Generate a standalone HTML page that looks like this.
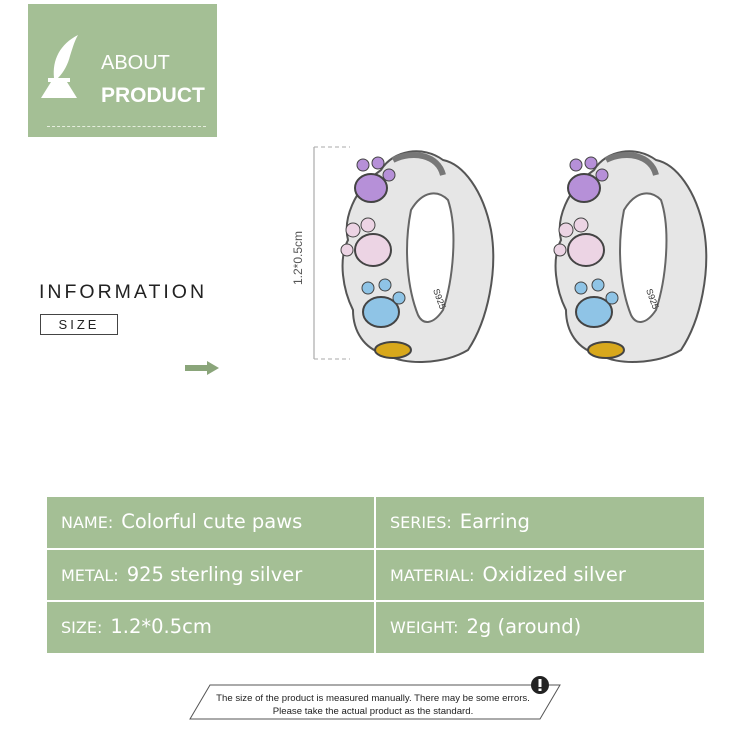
<!DOCTYPE html>
<html><head><meta charset="utf-8"><style>
body{margin:0;width:750px;height:752px;background:#fff;position:relative;overflow:hidden;font-family:"Liberation Sans",sans-serif}
.a{position:absolute}
.cell{position:absolute;background:#a4bf95;color:#fff;font-family:"DejaVu Sans","Liberation Sans",sans-serif;font-size:19.5px;line-height:50px;white-space:nowrap}
.cell span{font-size:16px;margin-right:8px}
</style></head><body>
<div class="a" style="left:28px;top:4px;width:189px;height:133px;background:#a4bf95"></div>
<div class="a" style="left:47px;top:126px;width:159px;border-top:1px dashed #e6eede"></div>
<svg class="a" style="left:40px;top:30px" width="60" height="75" viewBox="0 0 60 75">
<path d="M14 48 C12 30 20 14 38 5 C34 12 32 20 30 26 C28 34 24 42 18 48 Z" fill="#fff"/>
<path d="M8 48 L30 48 L30 52 L27 52 L37 68 L1 68 L11 52 L8 52 Z" fill="#fff"/>
</svg>
<div class="a" style="left:101px;top:52px;color:#fff;font-size:20px">ABOUT</div>
<div class="a" style="left:101px;top:84px;color:#fff;font-size:21px;font-weight:bold">PRODUCT</div>
<div class="a" style="left:39px;top:281px;font-size:19.5px;letter-spacing:3px;color:#222">INFORMATION</div>
<div class="a" style="left:40px;top:314px;width:76px;height:19px;border:1px solid #444;text-align:center;font-size:13px;letter-spacing:3px;line-height:19px;color:#222">SIZE</div>
<svg class="a" style="left:185px;top:361px" width="36" height="14"><rect x="0" y="4" width="24" height="6" fill="#8aa57a"/><polygon points="22,0 34,7 22,14" fill="#8aa57a"/></svg>
<svg class="a" style="left:285px;top:140px" width="460" height="280">
<line x1="29" y1="7" x2="29" y2="219" stroke="#999" stroke-width="1"/>
<line x1="29" y1="7" x2="65" y2="7" stroke="#aaa" stroke-dasharray="4,3"/>
<line x1="29" y1="219" x2="65" y2="219" stroke="#aaa" stroke-dasharray="4,3"/>
<text x="0" y="0" transform="translate(17,145) rotate(-90)" font-family="Liberation Sans" font-size="12" fill="#555">1.2*0.5cm</text>
<defs><g id="er">
<path d="M48 20 C60 0 90 -5 110 10 C130 14 150 40 158 80 C165 120 155 170 135 200 C110 215 70 215 55 205 C30 200 20 180 20 160 C10 140 5 110 15 90 C10 70 20 40 48 20 Z" fill="#e6e6e6" stroke="#555" stroke-width="2"/>
<path d="M78 60 C90 40 105 40 115 50 C125 80 120 130 110 160 C100 175 90 175 85 165 C75 140 70 100 78 60 Z" fill="#fff" stroke="#666" stroke-width="2"/>
<path d="M60 10 C80 0 105 5 110 25" fill="none" stroke="#777" stroke-width="6"/>
<ellipse cx="38" cy="38" rx="16" ry="14" fill="#b690d8" stroke="#444" stroke-width="2"/>
<circle cx="30" cy="15" r="6" fill="#b690d8" stroke="#444"/><circle cx="45" cy="13" r="6" fill="#b690d8" stroke="#444"/><circle cx="56" cy="25" r="6" fill="#b690d8" stroke="#444"/>
<ellipse cx="40" cy="100" rx="18" ry="16" fill="#ecd4e4" stroke="#444" stroke-width="2"/>
<circle cx="20" cy="80" r="7" fill="#ecd4e4" stroke="#444"/><circle cx="35" cy="75" r="7" fill="#ecd4e4" stroke="#444"/><circle cx="14" cy="100" r="6" fill="#ecd4e4" stroke="#444"/>
<ellipse cx="48" cy="162" rx="18" ry="15" fill="#8fc4e6" stroke="#444" stroke-width="2"/>
<circle cx="35" cy="138" r="6" fill="#8fc4e6" stroke="#444"/><circle cx="52" cy="135" r="6" fill="#8fc4e6" stroke="#444"/><circle cx="66" cy="148" r="6" fill="#8fc4e6" stroke="#444"/>
<ellipse cx="60" cy="200" rx="18" ry="8" fill="#d8a81c" stroke="#444" stroke-width="2"/>
<text x="100" y="140" transform="rotate(70 100 140)" font-size="9" fill="#333">S925</text>
</g></defs>
<use href="#er" x="48" y="10"/>
<use href="#er" x="261" y="10"/>
</svg>
<div class="cell" style="left:47px;top:497px;width:327px;height:51px;padding-left:14px;box-sizing:border-box"><span>NAME:</span>Colorful cute paws</div>
<div class="cell" style="left:376px;top:497px;width:328px;height:51px;padding-left:14px;box-sizing:border-box"><span>SERIES:</span>Earring</div>
<div class="cell" style="left:47px;top:550px;width:327px;height:50px;padding-left:14px;box-sizing:border-box"><span>METAL:</span>925 sterling silver</div>
<div class="cell" style="left:376px;top:550px;width:328px;height:50px;padding-left:14px;box-sizing:border-box"><span>MATERIAL:</span>Oxidized silver</div>
<div class="cell" style="left:47px;top:602px;width:327px;height:51px;padding-left:14px;box-sizing:border-box"><span>SIZE:</span>1.2*0.5cm</div>
<div class="cell" style="left:376px;top:602px;width:328px;height:51px;padding-left:14px;box-sizing:border-box"><span>WEIGHT:</span>2g (around)</div>
<svg class="a" style="left:185px;top:674px" width="380" height="50">
<polygon points="25,11 375,11 355,45 5,45" fill="#fff" stroke="#555" stroke-width="1"/>
<circle cx="355" cy="11" r="9" fill="#222"/><rect x="353.5" y="5" width="3" height="8" fill="#fff"/><rect x="353.5" y="14.5" width="3" height="2.5" fill="#fff"/>
<text x="188" y="27" text-anchor="middle" font-family="Liberation Sans" font-size="9.6" fill="#222">The size of the product is measured manually. There may be some errors.</text>
<text x="188" y="40" text-anchor="middle" font-family="Liberation Sans" font-size="9.6" fill="#222">Please take the actual product as the standard.</text>
</svg>
</body></html>
